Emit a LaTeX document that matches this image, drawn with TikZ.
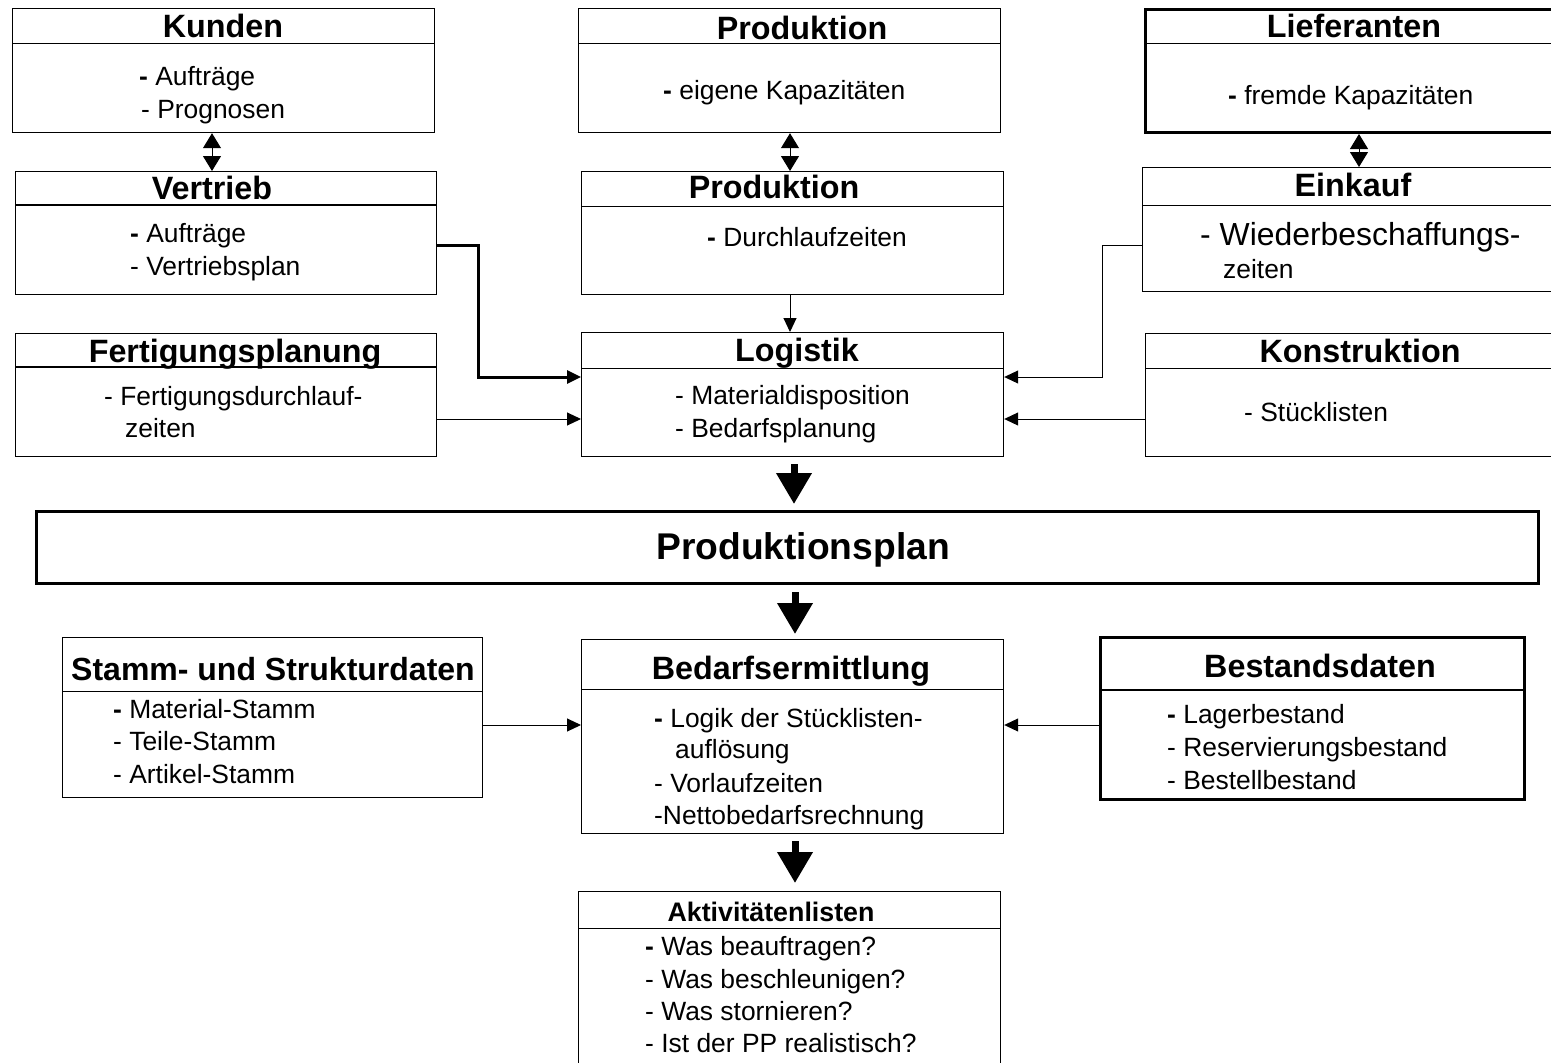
\documentclass[tikz,border=0pt]{standalone}
\usepackage{fontspec}
\setmainfont{Liberation Sans}
\usetikzlibrary{arrows.meta}
\newcommand\hd{\textbf{-}}
\begin{document}
\begin{tikzpicture}[x=1pt,y=-1pt,
  frame/.style={draw=black, line width=1.2pt, inner sep=0pt, anchor=north west},
  heavyframe/.style={frame, line width=3pt},
  rule/.style={line width=1pt},
  heavyrule/.style={line width=2.8pt},
  ttl/.style={inner sep=0pt, anchor=base, font=\bfseries\fontsize{32.3}{37}\selectfont},
  body/.style={inner sep=0pt, anchor=base west, font=\fontsize{26.4}{31}\selectfont},
  flow/.style={line width=1pt, -{Triangle[length=14pt,width=13pt]}},
  swap/.style={line width=1pt, {Triangle[length=15pt,width=18pt]}-{Triangle[length=15pt,width=18pt]}},
  bigflow/.style={line width=7pt, -{Triangle[length=31pt,width=34pt]}},
]
\useasboundingbox (0,0) rectangle (1551,1063);

% ---------- boxes ----------
\node[frame, minimum width=422pt, minimum height=124pt] (kunden) at (12,8) {};
\node[frame, minimum width=421pt, minimum height=123pt] (vertrieb) at (15,171) {};
\node[frame, minimum width=422pt, minimum height=124pt] (prod1) at (578,8) {};
\node[frame, minimum width=422pt, minimum height=123pt] (prod2) at (581,171) {};
\node[heavyframe, minimum width=426pt, minimum height=123pt] (lief) at (1144,8) {};
\node[frame, minimum width=428pt, minimum height=124pt] (eink) at (1142,167) {};
\node[frame, minimum width=421pt, minimum height=123pt] (fert) at (15,333) {};
\node[frame, minimum width=422pt, minimum height=124pt] (logi) at (581,332) {};
\node[frame, minimum width=425pt, minimum height=123pt] (kons) at (1145,333) {};
\node[heavyframe, minimum width=1502pt, minimum height=72pt] (plan) at (35,510) {};
\node[frame, minimum width=420pt, minimum height=160pt] (stamm) at (62,637) {};
\node[frame, minimum width=422pt, minimum height=194pt] (bedarf) at (581,639) {};
\node[heavyframe, minimum width=424pt, minimum height=162pt] (bestand) at (1099,636) {};
\node[frame, minimum width=422pt, minimum height=200pt] (aktiv) at (578,891) {};

% ---------- header rules ----------
\draw[rule] (kunden.west |- 0,43) -- (kunden.east |- 0,43);
\draw[heavyrule] (vertrieb.west |- 0,205) -- (vertrieb.east |- 0,205);
\draw[rule] (prod1.west |- 0,43) -- (prod1.east |- 0,43);
\draw[rule] (prod2.west |- 0,206) -- (prod2.east |- 0,206);
\draw[rule] (lief.west |- 0,43) -- (lief.east |- 0,43);
\draw[rule] (eink.west |- 0,205) -- (eink.east |- 0,205);
\draw[heavyrule] (fert.west |- 0,367) -- (fert.east |- 0,367);
\draw[rule] (logi.west |- 0,368) -- (logi.east |- 0,368);
\draw[rule] (kons.west |- 0,368) -- (kons.east |- 0,368);
\draw[rule] (stamm.west |- 0,691) -- (stamm.east |- 0,691);
\draw[rule] (bedarf.west |- 0,689) -- (bedarf.east |- 0,689);
\draw[heavyrule] (bestand.west |- 0,690) -- (bestand.east |- 0,690);
\draw[rule] (aktiv.west |- 0,928) -- (aktiv.east |- 0,928);

% ---------- texts ----------
\node[ttl] (kunden-t) at (223,37) {Kunden};
\node[body] (kunden-1) at (139,85) {\hd\ Aufträge};
\node[body] (kunden-2) at (141,118) {- Prognosen};

\node[ttl] (vertrieb-t) at (212,199) {Vertrieb};
\node[body] (vertrieb-1) at (130,242) {\hd\ Aufträge};
\node[body] (vertrieb-2) at (130,275) {- Vertriebsplan};

\node[ttl] (prod1-t) at (802,39) {Produktion};
\node[body] (prod1-1) at (663,99) {\hd\ eigene Kapazitäten};

\node[ttl] (prod2-t) at (774,198) {Produktion};
\node[body] (prod2-1) at (707,246) {\hd\ Durchlaufzeiten};

\node[ttl] (lief-t) at (1354,37) {Lieferanten};
\node[body] (lief-1) at (1228,104) {\hd\ fremde Kapazitäten};

\node[ttl] (eink-t) at (1353,196) {Einkauf};
\node[body, font=\fontsize{31.9}{36}\selectfont] (eink-1) at (1200,245) {- Wiederbeschaffungs-};
\node[body] (eink-2) at (1223,278) {zeiten};

\node[ttl] (fert-t) at (235,362) {Fertigungsplanung};
\node[body] (fert-1) at (104,405) {- Fertigungsdurchlauf-};
\node[body] (fert-2) at (125,437) {zeiten};

\node[ttl] (logi-t) at (797,361) {Logistik};
\node[body] (logi-1) at (675,404) {- Materialdisposition};
\node[body] (logi-2) at (675,437) {- Bedarfsplanung};

\node[ttl] (kons-t) at (1360,362) {Konstruktion};
\node[body] (kons-1) at (1244,421) {- Stücklisten};

\node[ttl, font=\bfseries\fontsize{37.2}{42}\selectfont] (plan-t) at (803,559) {Produktionsplan};

\node[ttl, font=\bfseries\fontsize{32}{37}\selectfont] (stamm-t) at (273,680) {Stamm- und Strukturdaten};
\node[body] (stamm-1) at (113,718) {\hd\ Material-Stamm};
\node[body] (stamm-2) at (113,750.5) {- Teile-Stamm};
\node[body] (stamm-3) at (113,783) {- Artikel-Stamm};

\node[ttl] (bedarf-t) at (791,679) {Bedarfsermittlung};
\node[body] (bedarf-1) at (654,727) {\hd\ Logik der Stücklisten-};
\node[body] (bedarf-2) at (675,758) {auflösung};
\node[body] (bedarf-3) at (654,792) {- Vorlaufzeiten};
\node[body] (bedarf-4) at (654,824) {-Nettobedarfsrechnung};

\node[ttl] (bestand-t) at (1320,677) {Bestandsdaten};
\node[body] (bestand-1) at (1167,723) {\hd\ Lagerbestand};
\node[body] (bestand-2) at (1167,756) {- Reservierungsbestand};
\node[body] (bestand-3) at (1167,789) {- Bestellbestand};

\node[ttl, font=\bfseries\fontsize{26.8}{31}\selectfont] (aktiv-t) at (771,921) {Aktivitätenlisten};
\node[body] (aktiv-1) at (645,955) {\hd\ Was beauftragen?};
\node[body] (aktiv-2) at (645,988) {- Was beschleunigen?};
\node[body] (aktiv-3) at (645,1020) {- Was stornieren?};
\node[body] (aktiv-4) at (645,1052) {- Ist der PP realistisch?};

% ---------- connectors ----------
\draw[swap] (kunden.south -| 212,0) -- (vertrieb.north -| 212,0);
\draw[swap] (prod1.south -| 790,0) -- (prod2.north -| 790,0);
\draw[swap] (lief.south -| 1359,0) -- (eink.north -| 1359,0);

\draw[flow] (prod2.south -| 790,0) -- (logi.north -| 790,0);

\coordinate (vbend) at (478,377);
\draw[flow, line width=3pt] (vertrieb.east |- 0,245) -| (vbend) -- (vbend -| logi.west);
\draw[flow] (fert.east |- 0,419) -- (logi.west |- 0,419);

\coordinate (ebend) at (1102,377);
\draw[flow] (eink.west |- 0,245) -| (ebend) -- (ebend -| logi.east);
\draw[flow] (kons.west |- 0,419) -- (logi.east |- 0,419);

\draw[flow] (stamm.east |- 0,725) -- (bedarf.west |- 0,725);
\draw[flow] (bestand.west |- 0,725) -- (bedarf.east |- 0,725);

\draw[bigflow, shorten <=7pt, shorten >=6pt] (logi.south -| 794,0) -- (plan.north -| 794,0);
\draw[bigflow, shorten <=7pt, shorten >=5pt] (plan.south -| 795,0) -- (bedarf.north -| 795,0);
\draw[bigflow, shorten <=7pt, shorten >=8pt] (bedarf.south -| 795,0) -- (aktiv.north -| 795,0);
\end{tikzpicture}
\end{document}
